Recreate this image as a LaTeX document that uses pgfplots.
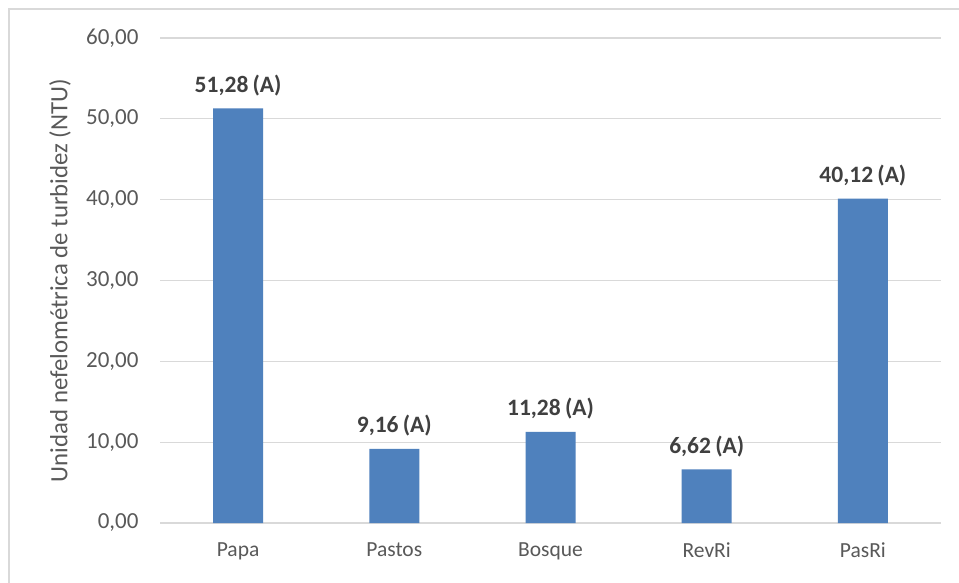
\documentclass[border=0pt]{standalone}
\usepackage{fontspec}
\setmainfont{Carlito}
\usepackage{pgfplots}
\pgfplotsset{compat=1.18}
\definecolor{barblue}{HTML}{4F81BD}
\definecolor{gridgray}{HTML}{D9D9D9}
\definecolor{textgray}{HTML}{595959}
\definecolor{lblgray}{HTML}{404040}
\begin{document}
\begin{tikzpicture}[x=1pt,y=1pt]
\useasboundingbox (0,0) rectangle (959,582);
\clip (0,0) rectangle (959,582);
\fill[white] (0,0) rectangle (959,582);
\draw[color=gridgray, line width=1.8pt] (9,-20) rectangle (990,573);
\begin{axis}[
  at={(160pt,59pt)}, anchor=south west,
  scale only axis, width=781pt, height=485pt,
  ybar, bar width=50pt,
  xmin=-0.5, xmax=4.5, ymin=0, ymax=60,
  xtick={0,1,2,3,4},
  xticklabels={Papa,Pastos,Bosque,RevRi,PasRi},
  ytick={0,10,20,30,40,50,60},
  axis line style={draw=none},
  tick style={draw=none},
  ymajorgrids, grid style={color=gridgray, line width=1.2pt},
  /pgf/number format/.cd, fixed, zerofill, precision=2, use comma, assume math mode=true,
  /pgfplots/.cd,
  yticklabel style={font=\fontsize{23}{23}\selectfont, color=textgray, xshift=-18pt},
  xticklabel style={font=\fontsize{21.5}{21.5}\selectfont, color=textgray, yshift=-12pt},
  ylabel={Unidad nefelométrica de turbidez (NTU)},
  ylabel style={font=\fontsize{24.8}{24.8}\selectfont, color=textgray, at={(axis description cs:-0.128,0.5)}, anchor=center},
  nodes near coords={\pgfmathprintnumber[fixed,zerofill,precision=2,use comma,assume math mode=true]{\pgfplotspointmeta}\hspace{0.18em}(A)},
  every node near coord/.append style={font=\bfseries\fontsize{23.5}{23.5}\selectfont, color=lblgray, anchor=south, yshift=9pt},
]
\addplot[fill=barblue, draw=none] coordinates {(0,51.28) (1,9.16) (2,11.28) (3,6.62) (4,40.12)};
\end{axis}
\end{tikzpicture}
\end{document}
